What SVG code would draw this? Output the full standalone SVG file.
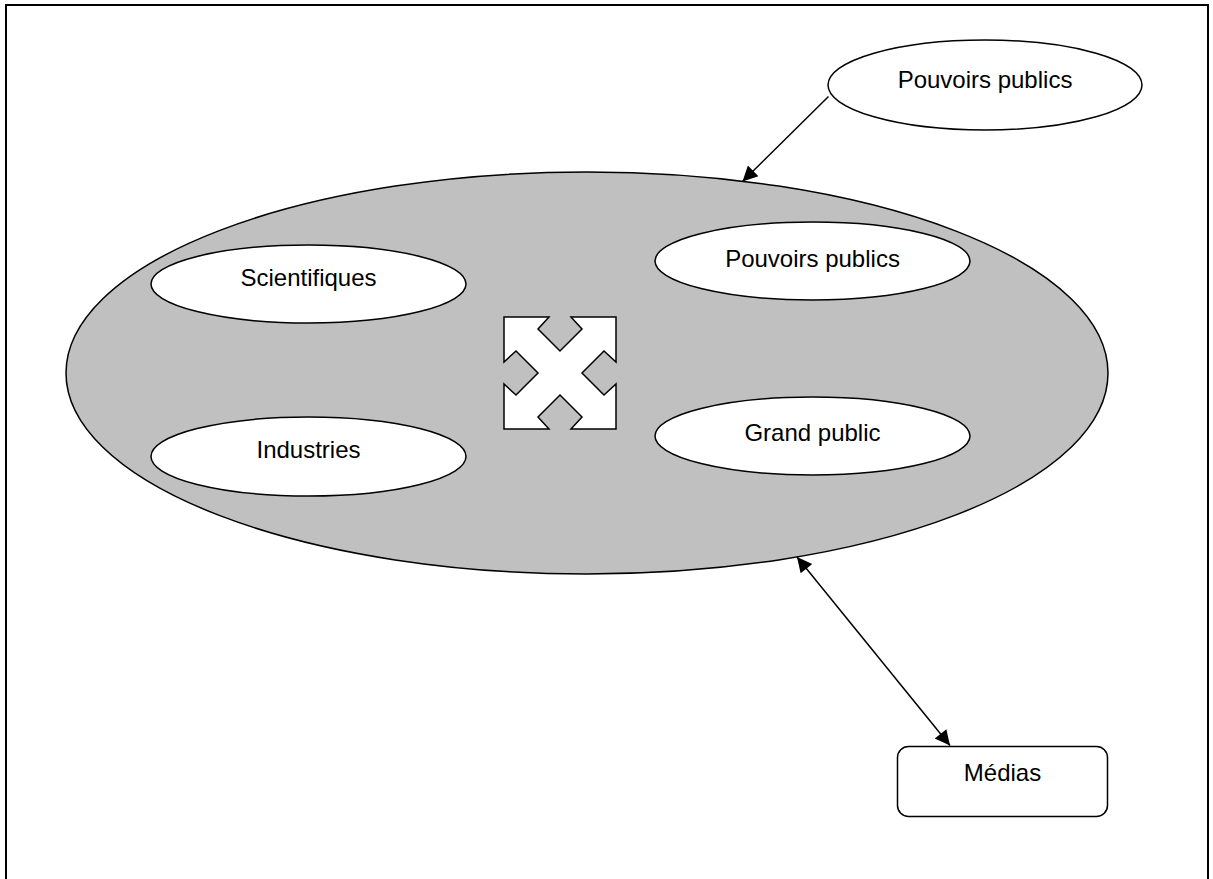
<svg xmlns="http://www.w3.org/2000/svg" width="1213" height="879" viewBox="0 0 1213 879">
<defs>
<style>
.lbl{font-family:"Liberation Sans",Arial,sans-serif;font-size:24px;fill:#000;text-anchor:middle}
.node{fill:#fff;stroke:#000;stroke-width:1.5}
.conn{stroke:#000;stroke-width:1.5;fill:none}
</style>
<marker id="ah" viewBox="0 0 10 10" refX="10" refY="5" markerUnits="userSpaceOnUse" markerWidth="17" markerHeight="15" orient="auto-start-reverse">
<path d="M0,0 L10,5 L0,10 Z" fill="#000"/>
</marker>
</defs>
<rect width="1213" height="879" fill="#fff"/>
<path d="M6,879 V5 H1208 V879" fill="none" stroke="#000" stroke-width="2"/>
<g id="group-ellipse">
<ellipse cx="587" cy="373" rx="521" ry="201" fill="#c0c0c0" stroke="#000" stroke-width="1.5"/>
</g>
<g id="scientifiques">
<ellipse class="node" cx="308.5" cy="284" rx="157.5" ry="39"/>
<text class="lbl" x="308.5" y="286">Scientifiques</text>
</g>
<g id="pouvoirs-publics-inner">
<ellipse class="node" cx="812.5" cy="261" rx="157.5" ry="39"/>
<text class="lbl" x="812.5" y="267">Pouvoirs publics</text>
</g>
<g id="industries">
<ellipse class="node" cx="308.5" cy="456.5" rx="157.5" ry="39.5"/>
<text class="lbl" x="308.5" y="458">Industries</text>
</g>
<g id="grand-public">
<ellipse class="node" cx="812.5" cy="436" rx="157.5" ry="39"/>
<text class="lbl" x="812.5" y="441">Grand public</text>
</g>
<g id="pouvoirs-publics-top">
<ellipse class="node" cx="985" cy="85" rx="157" ry="45"/>
<text class="lbl" x="985" y="88">Pouvoirs publics</text>
</g>
<g id="medias">
<rect class="node" x="897.5" y="746.5" width="210" height="70" rx="11"/>
<text class="lbl" x="1002.5" y="781">Médias</text>
</g>
<g id="four-way-arrow" transform="translate(560,373)">
<path d="M-56,-56 L-11,-56 L-22,-44 L0,-22 L22,-44 L11,-56 L56,-56 L56,-11 L44,-22 L22,0 L44,22 L56,11 L56,56 L11,56 L22,44 L0,22 L-22,44 L-11,56 L-56,56 L-56,11 L-44,22 L-22,0 L-44,-22 L-56,-11 Z" fill="#fff" stroke="#000" stroke-width="1.5"/>
</g>
<g id="connectors">
<line class="conn" x1="828.5" y1="96.5" x2="742.5" y2="181.5" marker-end="url(#ah)"/>
<line class="conn" x1="797" y1="557" x2="950" y2="745.5" marker-start="url(#ah)" marker-end="url(#ah)"/>
</g>
</svg>
